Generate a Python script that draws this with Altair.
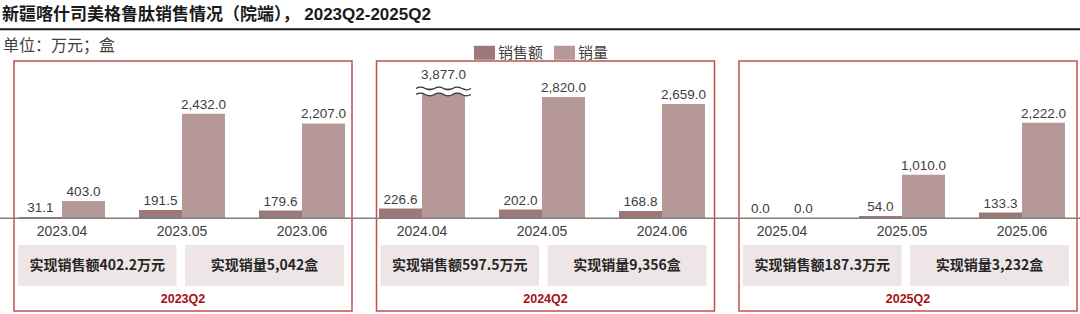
import altair as alt
import pandas as pd

# ---------------- data ----------------
months = ["2023.04", "2023.05", "2023.06",
          "2024.04", "2024.05", "2024.06",
          "2025.04", "2025.05", "2025.06"]
sales = [31.1, 191.5, 179.6, 226.6, 202.0, 168.8, 0.0, 54.0, 133.3]          # 销售额 (万元)
volume = [403.0, 2432.0, 2207.0, 3877.0, 2820.0, 2659.0, 0.0, 1010.0, 2222.0]  # 销量 (盒)
series = ["销售额", "销量"]
quarters = ["2023Q2", "2024Q2", "2025Q2"]
q_sales_text = ["实现销售额402.2万元", "实现销售额597.5万元", "实现销售额187.3万元"]
q_volume_text = ["实现销量5,042盒", "实现销量9,356盒", "实现销量3,232盒"]

title_text = "新疆喀什司美格鲁肽销售情况（院端）， 2023Q2-2025Q2"
unit_text = "单位：万元；盒"

# ---------------- styling ----------------
colors = ["#9d7878", "#b69898"]
BOX_RED = "#c0504d"
TXT = "#404040"
LATIN = "Liberation Sans, Noto Sans CJK SC"
CJK = "Noto Sans CJK SC"
BASE_Y = 218.3          # pixel row of zero
PX_PER_UNIT = 0.043
BREAK_CAP = 3030        # displayed height of the broken (axis-break) bar

rows = []
for i, m in enumerate(months):
    for s, v in zip(series, [sales[i], volume[i]]):
        rows.append({"month": m, "series": s, "value": v,
                     "shown": min(v, BREAK_CAP),
                     "label": f"{v:,.1f}",
                     "broken": v > BREAK_CAP})
bars_df = pd.DataFrame(rows)

qrows = []
for q, name in enumerate(quarters):
    l = 14 + 362.5 * q
    r = l + 338
    c = (l + r) / 2
    qrows.append({"quarter": name, "sales_txt": q_sales_text[q], "vol_txt": q_volume_text[q],
                  "l": l, "r": r, "c": c,
                  "r1l": l + 4, "r1r": c - 6.5, "r2l": c + 2, "r2r": r - 8,
                  "c1": (l + 4 + c - 6.5) / 2, "c2": (c + 2 + r - 8) / 2})
q_df = pd.DataFrame(qrows)

one = pd.DataFrame([{"title": title_text, "unit": unit_text}])

# ---------------- scales ----------------
xband = alt.Scale(domain=months, range=[2, 1082], paddingInner=0, paddingOuter=0)
xoff = alt.Scale(domain=series, paddingInner=0, paddingOuter=0.395)
yscale = alt.Scale(domain=[0, 5000], range=[BASE_Y, BASE_Y - 5000 * PX_PER_UNIT], nice=False, zero=True)
pxscale = alt.Scale(domain=[0, 1080], range=[0, 1080], nice=False, zero=False)

X = alt.X("month:N", scale=xband, axis=None, sort=months)
XO = alt.XOffset("series:N", scale=xoff, sort=series)

base = alt.Chart(bars_df)

bars = base.mark_bar(size=43, opacity=1).encode(
    x=X, xOffset=XO,
    y=alt.Y("shown:Q", scale=yscale, axis=None),
    color=alt.Color("series:N", sort=series,
                    scale=alt.Scale(domain=series, range=colors),
                    legend=alt.Legend(orient="none", legendX=474, legendY=42,
                                      direction="horizontal", title=None,
                                      symbolType="M-1,-0.667H1V0.667H-1Z",
                                      symbolSize=441, symbolStrokeWidth=0,
                                      symbolOpacity=1, labelFont=CJK,
                                      labelFontSize=15, labelColor=TXT,
                                      labelOffset=3, columnPadding=10, padding=0)),
)

labels = base.transform_filter("!datum.broken").mark_text(
    baseline="alphabetic", dy=-5, font=LATIN, fontSize=13.5, color=TXT
).encode(x=X, xOffset=XO, y=alt.Y("shown:Q", scale=yscale, axis=None), text="label:N")

broken_label = base.transform_filter("datum.broken").mark_text(
    baseline="alphabetic", dy=-9, font=LATIN, fontSize=13.5, color=TXT
).encode(x=X, xOffset=XO, y=alt.Y("shown:Q", scale=yscale, axis=None), text="label:N")

y0, y1 = 0.018, 0.236
a = 0.1
top_wave = (f"M-1,{y0} Q-0.833,{y0 - a} -0.667,{y0} T-0.333,{y0} T0,{y0} "
            f"T0.333,{y0} T0.667,{y0} T1,{y0}")
bot_wave = (f"M-1,{y1} Q-0.833,{y1 - a} -0.667,{y1} T-0.333,{y1} T0,{y1} "
            f"T0.333,{y1} T0.667,{y1} T1,{y1}")
fill_path = (top_wave + f" L1,{y1} Q0.833,{y1 + a} 0.667,{y1} T0.333,{y1} T0,{y1} "
             f"T-0.333,{y1} T-0.667,{y1} T-1,{y1} Z")

wave_fill = base.transform_filter("datum.broken").mark_point(
    shape=fill_path, filled=True, fill="white", strokeWidth=0, size=3025, opacity=1
).encode(x=X, xOffset=XO, y=alt.Y("shown:Q", scale=yscale, axis=None))
wave_line = base.transform_filter("datum.broken").mark_point(
    shape=top_wave + " " + bot_wave, filled=False, stroke="#333333",
    strokeWidth=1.2, size=3025, opacity=1
).encode(x=X, xOffset=XO, y=alt.Y("shown:Q", scale=yscale, axis=None))

month_labels = alt.Chart(pd.DataFrame({"month": months})).mark_text(
    baseline="alphabetic", font=LATIN, fontSize=14, color=TXT
).encode(x=X, y=alt.value(236.3), text="month:N")

qbase = alt.Chart(q_df)
boxes = qbase.mark_rect(fillOpacity=0, stroke=BOX_RED, strokeWidth=1.5).encode(
    x=alt.X("l:Q", scale=pxscale, axis=None), x2="r:Q",
    y=alt.value(61), y2=alt.value(311))
rect1 = qbase.mark_rect(fill="#eee6e6").encode(
    x=alt.X("r1l:Q", scale=pxscale, axis=None), x2="r1r:Q",
    y=alt.value(245), y2=alt.value(286))
rect2 = qbase.mark_rect(fill="#eee6e6").encode(
    x=alt.X("r2l:Q", scale=pxscale, axis=None), x2="r2r:Q",
    y=alt.value(245), y2=alt.value(286))
txt1 = qbase.mark_text(font=CJK, fontSize=14, fontWeight="bold", color="#262626",
                       baseline="middle").encode(
    x=alt.X("c1:Q", scale=pxscale, axis=None), y=alt.value(265.5), text="sales_txt:N")
txt2 = qbase.mark_text(font=CJK, fontSize=14, fontWeight="bold", color="#262626",
                       baseline="middle").encode(
    x=alt.X("c2:Q", scale=pxscale, axis=None), y=alt.value(265.5), text="vol_txt:N")
qlabel = qbase.mark_text(font=LATIN, fontSize=12.5, fontWeight="bold", color="#a50f15",
                         baseline="middle").encode(
    x=alt.X("c:Q", scale=pxscale, axis=None), y=alt.value(299), text="quarter:N")

obase = alt.Chart(one)
title = obase.mark_text(font=LATIN, fontSize=17, fontWeight="bold", color="#1a1a1a",
                        align="left", baseline="middle").encode(
    x=alt.value(2), y=alt.value(15), text="title:N")
title_line = obase.mark_rule(color="#1a1a1a", strokeWidth=2).encode(
    x=alt.value(0), x2=alt.value(1080), y=alt.value(29.3))
unit = obase.mark_text(font=CJK, fontSize=16, color=TXT, align="left",
                       baseline="middle").encode(
    x=alt.value(3), y=alt.value(46), text="unit:N")
baseline_rule = obase.mark_rule(color="#808080", strokeWidth=1.5).encode(
    x=alt.value(0), x2=alt.value(1080), y=alt.value(BASE_Y))

chart = alt.layer(
    boxes, rect1, rect2, txt1, txt2, qlabel,
    bars, baseline_rule, labels, broken_label, wave_fill, wave_line,
    month_labels, title, title_line, unit,
).resolve_scale(x="independent").properties(
    width=1080, height=314, autosize="none", padding=0, background="white"
).configure_view(stroke=None)

chart.save("out.html", embed_options={"renderer": "svg", "actions": False})
